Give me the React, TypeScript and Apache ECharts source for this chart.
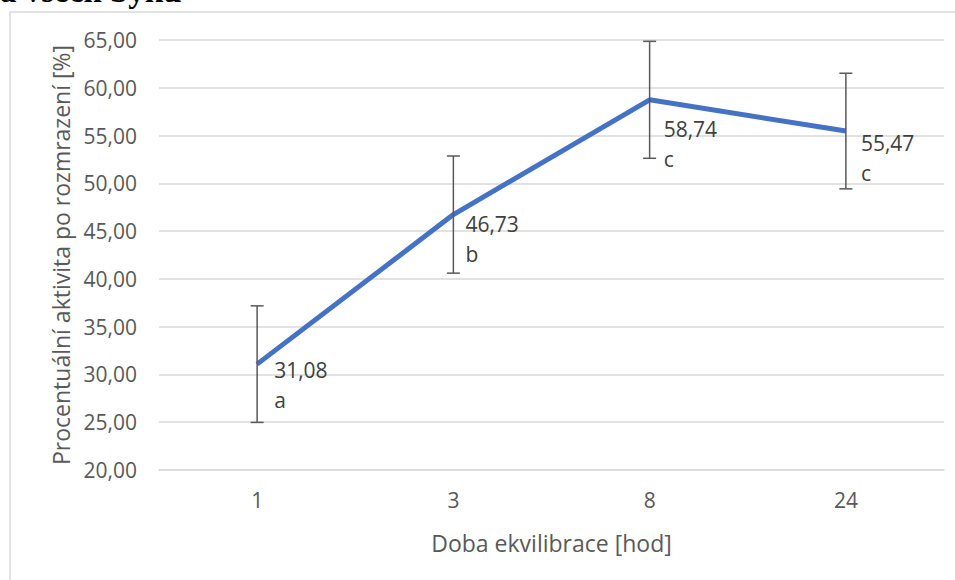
import React, { useEffect, useRef } from "react";
import * as echarts from "echarts";

const categories = ["1", "3", "8", "24"];
const means = [31.08, 46.73, 58.74, 55.47];
const errors = [6.1, 6.13, 6.12, 6.05];
const letters = ["a", "b", "c", "c"];
const yTicks = { min: 20, max: 65, interval: 5 };
const labelOffsets = [
  [17, 6],
  [12, 9],
  [14, 29],
  [15, 12],
];

const FONT = "Open Sans";
const fmt = (v: number) => v.toFixed(2).replace(".", ",");

export default function App() {
  const ref = useRef<HTMLDivElement>(null);
  useEffect(() => {
    if (!ref.current) return;
    const chart = echarts.init(ref.current, undefined, { renderer: "svg" });
    chart.setOption({
      animation: false,
      backgroundColor: "#ffffff",
      textStyle: { fontFamily: FONT },
      graphic: [
        {
          type: "rect",
          shape: { x: 10, y: 12, width: 960, height: 600 },
          style: { fill: "none", stroke: "#d9d9d9", lineWidth: 1.5 },
          z: -1,
        },
        {
          type: "text",
          x: 0,
          y: 7,
          style: {
            text: "a všech býků",
            font: "bold 33px 'Liberation Serif', serif",
            fill: "#000000",
            textAlign: "left",
            textVerticalAlign: "bottom",
          },
        },
      ],
      grid: { left: 159, right: 11, top: 40, bottom: 110 },
      xAxis: {
        type: "category",
        data: categories,
        boundaryGap: true,
        axisLine: { lineStyle: { color: "#d9d9d9", width: 1.5 } },
        axisTick: { show: false },
        axisLabel: { color: "#595959", fontSize: 21, margin: 19, fontFamily: FONT },
        name: "Doba ekvilibrace [hod]",
        nameLocation: "middle",
        nameGap: 61,
        nameTextStyle: { color: "#595959", fontSize: 23, fontFamily: FONT },
      },
      yAxis: {
        type: "value",
        min: yTicks.min,
        max: yTicks.max,
        interval: yTicks.interval,
        axisLine: { show: false },
        axisTick: { show: false },
        splitLine: { lineStyle: { color: "#d9d9d9", width: 1.5 } },
        axisLabel: {
          color: "#595959",
          fontSize: 21,
          margin: 22,
          fontFamily: FONT,
          formatter: (v: number) => fmt(v),
        },
        name: "Procentuální aktivita po rozmrazení [%]",
        nameLocation: "middle",
        nameGap: 84,
        nameTextStyle: { color: "#595959", fontSize: 23, fontFamily: FONT },
      },
      series: [
        {
          type: "line",
          data: means,
          showSymbol: false,
          symbol: "none",
          lineStyle: { color: "#4472C4", width: 5 },
          z: 2,
        },
        {
          type: "custom",
          z: 3,
          data: means.map((m, i) => [i, m, errors[i]]),
          renderItem: (params: any, api: any) => {
            const i = api.value(0);
            const m = api.value(1);
            const e = api.value(2);
            const p = api.coord([i, m]);
            const top = api.coord([i, m + e]);
            const bot = api.coord([i, m - e]);
            const cap = 6.5;
            const ls = { stroke: "#595959", lineWidth: 1.5 };
            const [dx, dy] = labelOffsets[i];
            return {
              type: "group",
              children: [
                { type: "line", shape: { x1: top[0], y1: top[1], x2: bot[0], y2: bot[1] }, style: ls },
                { type: "line", shape: { x1: top[0] - cap, y1: top[1], x2: top[0] + cap, y2: top[1] }, style: ls },
                { type: "line", shape: { x1: bot[0] - cap, y1: bot[1], x2: bot[0] + cap, y2: bot[1] }, style: ls },
                {
                  type: "text",
                  x: p[0] + dx,
                  y: p[1] + dy - 15,
                  style: {
                    text: fmt(m) + "\n" + letters[i],
                    fill: "#404040",
                    font: `21px '${FONT}'`,
                    lineHeight: 30,
                    textAlign: "left",
                    textVerticalAlign: "top",
                  },
                },
              ],
            };
          },
        },
      ],
    });
    return () => chart.dispose();
  }, []);
  return (
    <div
      ref={ref}
      style={{ position: "fixed", left: 0, top: 0, width: 955, height: 580 }}
    />
  );
}
